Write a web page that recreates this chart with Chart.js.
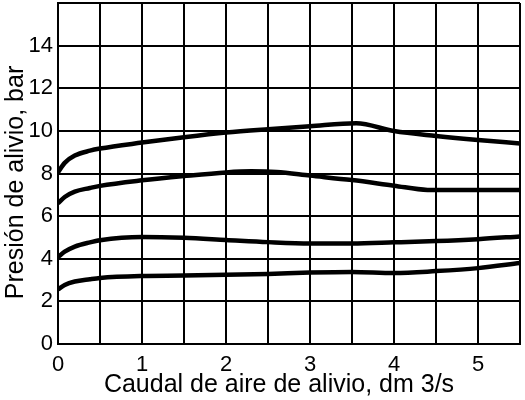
<!DOCTYPE html>
<html>
<head>
<meta charset="utf-8">
<script src="https://cdn.jsdelivr.net/npm/chart.js@4"></script>
<style>
html,body{margin:0;padding:0;background:#fff;}
#wrap{width:525px;height:400px;position:relative;}
</style>
</head>
<body>
<div id="wrap"><canvas id="c" width="525" height="400"></canvas></div>
<script>
const xLabel = "Caudal de aire de alivio, dm 3/s";
const yLabel = "Presión de alivio, bar";
const xTicks = [0, 1, 2, 3, 4, 5];
const yTicks = [0, 2, 4, 6, 8, 10, 12, 14];

const curve1X = [0, 0.08, 0.2, 0.38, 0.5, 1, 1.5, 2, 2.5, 3, 3.55, 4, 4.5, 5, 5.5];
const curve1Y = [8.05, 8.5, 8.84, 9.07, 9.17, 9.45, 9.7, 9.92, 10.08, 10.22, 10.36, 9.99, 9.76, 9.57, 9.41];

const curve2X = [0, 0.08, 0.2, 0.38, 0.5, 1, 1.5, 2, 2.3, 2.6, 3, 3.5, 4, 4.4, 5, 5.5];
const curve2Y = [6.6, 6.9, 7.15, 7.32, 7.42, 7.68, 7.88, 8.05, 8.1, 8.07, 7.9, 7.69, 7.43, 7.23, 7.22, 7.22];

const curve3X = [0, 0.08, 0.2, 0.38, 0.5, 1, 1.5, 2, 2.5, 3, 3.5, 4, 4.5, 5, 5.5];
const curve3Y = [4.08, 4.33, 4.57, 4.77, 4.87, 5.02, 4.98, 4.88, 4.78, 4.72, 4.72, 4.77, 4.83, 4.92, 5.05];

const curve4X = [0, 0.08, 0.2, 0.38, 0.5, 1, 1.5, 2, 2.5, 3, 3.5, 4, 4.5, 5, 5.5];
const curve4Y = [2.56, 2.77, 2.93, 3.04, 3.1, 3.19, 3.21, 3.25, 3.29, 3.35, 3.38, 3.33, 3.42, 3.56, 3.8];

function pts(xs, ys){ return xs.map((x,i)=>({x:x, y:ys[i]})); }
const series = [pts(curve1X,curve1Y), pts(curve2X,curve2Y), pts(curve3X,curve3Y), pts(curve4X,curve4Y)];

const FONT = "'Liberation Sans', Arial, sans-serif";

const shiftTitles = {
  id: 'shiftTitles',
  beforeDraw(chart) {
    const shifts = { x: [-10, 0], y: [0, 9] };
    for (const id of Object.keys(shifts)) {
      const s = chart.scales[id];
      if (s && !s._titlePatched) {
        const orig = s.drawTitle;
        const [dx, dy] = shifts[id];
        s.drawTitle = function () {
          const c = this.ctx;
          c.save(); c.translate(dx, dy);
          orig.apply(this, arguments);
          c.restore();
        };
        s._titlePatched = true;
      }
    }
  }
};

new Chart(document.getElementById('c'), {
  type: 'line',
  data: {
    datasets: series.map(d => ({
      data: d,
      borderColor: '#000',
      borderWidth: 4.5,
      pointRadius: 0,
      fill: false,
      cubicInterpolationMode: 'monotone'
    }))
  },
  plugins: [shiftTitles],
  options: {
    responsive: false,
    animation: false,
    layout: { padding: { top: 3, right: 5, left: 0, bottom: 0 } },
    plugins: { legend: { display: false }, tooltip: { enabled: false } },
    scales: {
      x: {
        type: 'linear',
        min: 0, max: 5.5,
        grid: { color: '#000', lineWidth: 2, drawTicks: false },
        border: { color: '#000', width: 2 },
        afterBuildTicks: (ax) => {
          const t = [];
          for (let v = 0; v <= 5.5 + 1e-9; v += 0.5) t.push({value: Math.round(v*10)/10});
          ax.ticks = t;
        },
        afterFit: (ax) => { ax.height = 56; ax.paddingLeft = 0; ax.paddingRight = 0; },
        ticks: {
          color: '#000', font: { family: FONT, size: 22 }, padding: 8, maxRotation: 0,
          autoSkip: false,
          callback: (v) => xTicks.includes(v) ? String(v) : ''
        },
        title: { display: true, text: xLabel, color: '#000', font: { family: FONT, size: 25 }, padding: { top: 0, bottom: 0 } }
      },
      y: {
        type: 'linear',
        min: 0, max: 16,
        grid: { color: '#000', lineWidth: 2, drawTicks: false },
        border: { color: '#000', width: 2 },
        afterBuildTicks: (ax) => {
          const t = [];
          for (let v = 0; v <= 16; v += 2) t.push({value: v});
          ax.ticks = t;
        },
        afterFit: (ax) => { ax.width = 58; ax.paddingTop = 0; ax.paddingBottom = 0; },
        ticks: {
          color: '#000', font: { family: FONT, size: 22 }, padding: 5,
          autoSkip: false,
          callback: (v) => yTicks.includes(v) ? String(v) : ''
        },
        title: { display: true, text: yLabel, color: '#000', font: { family: FONT, size: 25 }, padding: { top: 1, bottom: 0 } }
      }
    }
  }
});
</script>
</body>
</html>
